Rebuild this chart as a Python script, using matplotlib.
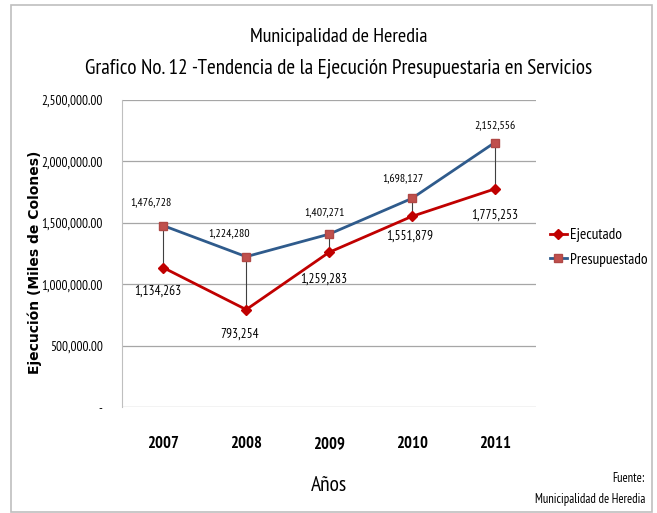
import matplotlib
matplotlib.use("Agg")
import matplotlib.pyplot as plt
from matplotlib.patches import Rectangle
from matplotlib.ticker import FuncFormatter

# Datos del gráfico
anios = ['2007', '2008', '2009', '2010', '2011']
ejecutado = [1134263, 793254, 1259283, 1551879, 1775253]
presupuestado = [1476728, 1224280, 1407271, 1698127, 2152556]

# desplazamiento de las etiquetas (pixeles, dx, dy hacia arriba)
desp_pres = [(-12, 23), (-17, 24), (-4, 22), (-9, 19), (0, 17)]
desp_ejec = [(-6, -23), (-7, -25), (-5, -27), (-2, -20), (0, -26)]

plt.rcParams['font.family'] = ['PT Sans Narrow', 'Carlito', 'DejaVu Sans']

fig = plt.figure(figsize=(6.57, 5.13), dpi=100)
W, H = 657, 513
ax = fig.add_axes([122 / W, 1 - 407 / H, 414 / W, 307 / H])

x = list(range(len(anios)))

# lineas verticales entre las dos series
ax.vlines(x, ejecutado, presupuestado, color='#404040', linewidth=0.8, zorder=2)

ax.plot(x, ejecutado, color='#C00000', linewidth=2, marker='D', markersize=5.5,
        markerfacecolor='#C00000', markeredgecolor='#C00000', label='Ejecutado', zorder=3)
ax.plot(x, presupuestado, color='#2F5B8C', linewidth=2, marker='s', markersize=6,
        markerfacecolor='#C0504D', markeredgecolor='#B04845', label='Presupuestado', zorder=3)

# etiquetas de valores
for i in x:
    ax.annotate(f'{presupuestado[i]:,}', (i, presupuestado[i]), xytext=desp_pres[i],
                textcoords='offset pixels', ha='center', va='center', fontsize=8.5)
    ax.annotate(f'{ejecutado[i]:,}', (i, ejecutado[i]), xytext=desp_ejec[i],
                textcoords='offset pixels', ha='center', va='center', fontsize=9.5)

ax.set_xlim(-0.5, 4.5)
ax.set_ylim(0, 2500000)
ax.set_yticks([0, 500000, 1000000, 1500000, 2000000, 2500000])
ax.yaxis.set_major_formatter(FuncFormatter(lambda v, p: '-' if v == 0 else f'{v:,.2f}'))
ax.set_xticks(x)
ax.set_xticklabels(anios, fontsize=12, fontweight='bold')
ax.tick_params(axis='y', labelsize=9.5, length=0, pad=14)
ax.tick_params(axis='x', length=0, pad=21)
ax.grid(axis='y', color='#A6A6A6', linewidth=0.9)
ax.set_axisbelow(True)
for s in ['top', 'right', 'bottom']:
    ax.spines[s].set_visible(False)
ax.spines['left'].set_color('#BFBFBF')

ax.set_ylabel('Ejecución (Miles de Colones)', family='DejaVu Sans', fontweight='bold',
              fontsize=10)
ax.yaxis.set_label_coords(-0.193, 0.47)
ax.set_xlabel('Años', fontsize=15.5, labelpad=17)

leg = ax.legend(loc='center left', bbox_to_anchor=(1.0, 0.52), frameon=False,
                fontsize=11, handlelength=1.1, handletextpad=0.2, labelspacing=0.7)

fig.text(339 / W, 1 - 37 / H, 'Municipalidad de Heredia', ha='center', va='center', fontsize=14.5)
fig.text(339 / W, 1 - 68 / H, 'Grafico No. 12 -Tendencia de la Ejecución Presupuestaria en Servicios',
         ha='center', va='center', fontsize=15.2)
fig.text(645 / W, 1 - 479 / H, 'Fuente:', ha='right', va='center', fontsize=9)
fig.text(645 / W, 1 - 500 / H, 'Municipalidad de Heredia', ha='right', va='center', fontsize=9)

fig.patches.append(Rectangle((11 / W, 0.002), 641 / W, 1 - 5 / H - 0.002, transform=fig.transFigure,
                             fill=False, edgecolor='#BFBFBF', linewidth=1.2))

fig.savefig('out.png', dpi=100)
